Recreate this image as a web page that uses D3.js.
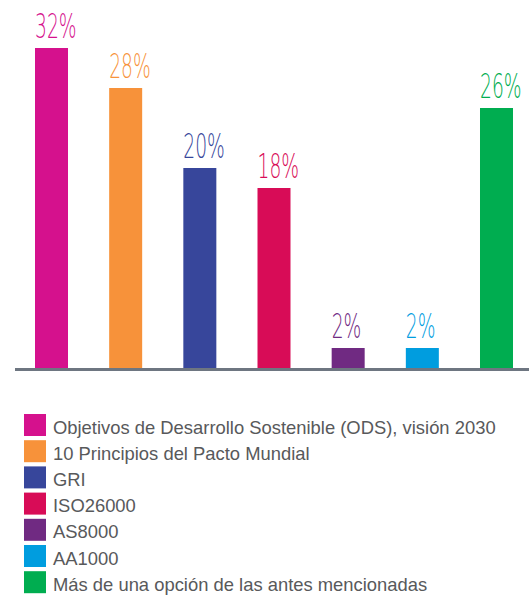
<!DOCTYPE html>
<html>
<head>
<meta charset="utf-8">
<script src="https://cdn.jsdelivr.net/npm/d3@7"></script>
<style>
	body { margin: 0; background: #fff; }
	svg { display: block; }
</style>
</head>
<body>
<svg id="chart"></svg>
<script>
const WIDTH = 529,
	HEIGHT = 595;

// data
const categories = [
		'Objetivos de Desarrollo Sostenible (ODS), visión 2030',
		'10 Principios del Pacto Mundial',
		'GRI',
		'ISO26000',
		'AS8000',
		'AA1000',
		'Más de una opción de las antes mencionadas'
	],
	values = [32, 28, 20, 18, 2, 2, 26],
	colors = ['#d5118d', '#f7923a', '#37469b', '#d80c57', '#702a82', '#009ddf', '#00ad50'];

const svg = d3.select('svg#chart')
	.attr('width', WIDTH)
	.attr('height', HEIGHT);

const x = d3.scaleBand()
	.domain(d3.range(values.length))
	.range([35, 513])
	.paddingInner(0.555)
	.paddingOuter(0);

const y = d3.scaleLinear()
	.domain([0, 32])
	.range([368, 48]);

const barsG = svg.append('g');

barsG.selectAll('rect.bar')
	.data(values)
	.enter().append('rect')
	.classed('bar', true)
	.attr('x', (d, i) => x(i))
	.attr('y', d => y(d))
	.attr('width', x.bandwidth())
	.attr('height', d => y(0) - y(d))
	.attr('fill', (d, i) => colors[i]);

// percentage labels, condensed light look
barsG.selectAll('text.value')
	.data(values)
	.enter().append('text')
	.classed('value', true)
	.attr('transform', (d, i) => `translate(${x(i)},${y(d) - 10}) scale(0.55,1)`)
	.attr('font-family', '"DejaVu Sans ExtraLight", "DejaVu Sans Light", "DejaVu Sans", sans-serif')
	.attr('font-weight', 200)
	.attr('font-size', 34)
	.attr('fill', (d, i) => colors[i])
	.text(d => d + '%');

// baseline
svg.append('line')
	.attr('x1', 15)
	.attr('x2', WIDTH)
	.attr('y1', 369.5)
	.attr('y2', 369.5)
	.attr('stroke', '#6e7681')
	.attr('stroke-width', 3);

// legend
const legendG = svg.append('g')
	.attr('transform', 'translate(24,414)');

const row = legendG.selectAll('g.item')
	.data(categories)
	.enter().append('g')
	.classed('item', true)
	.attr('transform', (d, i) => `translate(0,${i * 26.2})`);

row.append('rect')
	.attr('width', 22)
	.attr('height', 22)
	.attr('fill', (d, i) => colors[i]);

row.append('text')
	.attr('x', 29)
	.attr('y', 19.5)
	.attr('font-family', '"Liberation Sans", Arial, sans-serif')
	.attr('font-size', 18.4)
	.attr('fill', '#58595b')
	.text(d => d);
</script>
</body>
</html>
